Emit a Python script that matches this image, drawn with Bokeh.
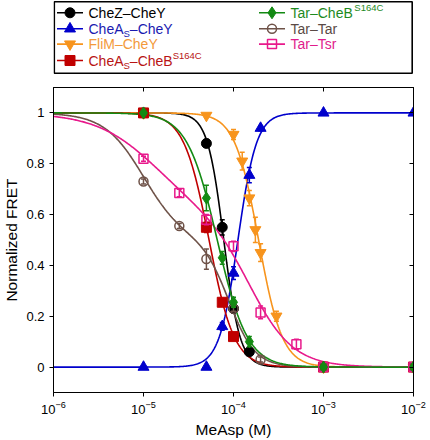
import numpy as np
from bokeh.plotting import figure
from bokeh.layouts import column
from bokeh.models import Range1d, LogAxis, LinearAxis, FixedTicker
from bokeh.core.properties import value
from bokeh.embed import file_html
from bokeh.resources import INLINE

# ---------------- data ----------------
chez_x = [1e-5, 5e-5, 7.5e-5, 1e-4, 1.5e-4, 1e-3, 1e-2]
chez_y = [1.0, 0.88, 0.55, 0.23, 0.06, 0.0, 0.0]
chez_err = [0.0, 0.015, 0.03, 0.015, 0.01, 0.0, 0.0]

chea_x = [1e-5, 5e-5, 7.5e-5, 1e-4, 1.5e-4, 2e-4, 1e-3, 1e-2]
chea_y = [0.0, 0.0, 0.16, 0.37, 0.755, 0.94, 1.0, 1.0]
chea_err = [0.0, 0.0, 0.015, 0.025, 0.03, 0.01, 0.0, 0.0]

flim_x = [1e-5, 5e-5, 1e-4, 1.25e-4, 1.5e-4, 1.75e-4, 2e-4, 3e-4, 1e-3, 1e-2]
flim_y = [1.0, 0.99, 0.915, 0.81, 0.665, 0.54, 0.45, 0.2, 0.0, 0.0]
flim_err = [0.0, 0.005, 0.02, 0.035, 0.03, 0.05, 0.035, 0.02, 0.0, 0.0]

cheacheb_x = [1e-5, 5e-5, 7.5e-5, 1e-4, 1e-3, 1e-2]
cheacheb_y = [1.0, 0.55, 0.255, 0.12, 0.0, 0.0]
cheacheb_err = [0.0, 0.02, 0.015, 0.01, 0.0, 0.0]

tarcheb_x = [1e-5, 5e-5, 7.5e-5, 1e-4, 1.5e-4, 1e-3, 1e-2]
tarcheb_y = [1.0, 0.665, 0.43, 0.255, 0.10, 0.0, 0.0]
tarcheb_err = [0.0, 0.05, 0.025, 0.02, 0.02, 0.0, 0.0]

tartar_x = [1e-5, 2.5e-5, 5e-5, 1e-4, 2e-4, 1e-3, 1e-2]
tartar_y = [0.73, 0.555, 0.425, 0.23, 0.03, 0.0, 0.0]
tartar_err = [0.01, 0.01, 0.04, 0.01, 0.01, 0.0, 0.0]

tartsr_x = [1e-5, 2.5e-5, 5e-5, 1e-4, 2e-4, 5e-4, 1e-3, 1e-2]
tartsr_y = [0.82, 0.685, 0.58, 0.475, 0.215, 0.09, 0.0, 0.0]
tartsr_err = [0.01, 0.015, 0.02, 0.02, 0.025, 0.02, 0.0, 0.0]

# Hill-fit parameters (weights, K, n); "up" = increasing response
chez_fit = ([1.0], [7.8e-5], [4.8])
chea_fit = ([1.0], [1.12e-4], [4.2])
flim_fit = ([1.0], [1.9e-4], [3.3])
cheacheb_fit = ([1.0], [5.35e-5], [3.1])
tarcheb_fit = ([1.0], [6.6e-5], [2.6])
tartar_fit = ([0.5, 0.5], [1.0e-5, 9.0e-5], [2.0, 3.0])
tartsr_fit = ([0.4, 0.6], [1.3e-5, 1.55e-4], [1.3, 1.8])

x_ticks = [1e-6, 1e-5, 1e-4, 1e-3, 1e-2]
y_ticks = [0, 0.2, 0.4, 0.6, 0.8, 1.0]
y_tick_labels = ["0", "0.2", "0.4", "0.6", "0.8", "1"]

FONT = "Liberation Sans"

series = [
    dict(name=[("CheZ–CheY", 0)], x=chez_x, y=chez_y, e=chez_err, fit=chez_fit, up=False,
         color="#000000", text_color="#000000", marker="circle", fill=True, size=10),
    dict(name=[("CheA", 0), ("S", -1), ("–CheY", 0)], x=chea_x, y=chea_y, e=chea_err, fit=chea_fit, up=True,
         color="#0000CC", text_color="#1A1AB0", marker="triangle", fill=True, size=11),
    dict(name=[("FliM–CheY", 0)], x=flim_x, y=flim_y, e=flim_err, fit=flim_fit, up=False,
         color="#F7941D", text_color="#F39A3A", marker="inverted_triangle", fill=True, size=11),
    dict(name=[("CheA", 0), ("S", -1), ("–CheB", 0), ("S164C", 1)], x=cheacheb_x, y=cheacheb_y,
         e=cheacheb_err, fit=cheacheb_fit, up=False,
         color="#C00000", text_color="#B81414", marker="square", fill=True, size=10),
    dict(name=[("Tar–CheB", 0), ("S164C", 1)], x=tarcheb_x, y=tarcheb_y, e=tarcheb_err, fit=tarcheb_fit,
         up=False, color="#138A13", text_color="#1E8A1E", marker="diamond", fill=True, size=12),
    dict(name=[("Tar–Tar", 0)], x=tartar_x, y=tartar_y, e=tartar_err, fit=tartar_fit, up=False,
         color="#6E5248", text_color="#5A4A45", marker="circle", fill=False, size=9),
    dict(name=[("Tar–Tsr", 0)], x=tartsr_x, y=tartsr_y, e=tartsr_err, fit=tartsr_fit, up=False,
         color="#E8198B", text_color="#E01C8C", marker="square", fill=False, size=9),
]

def hill(xs, fit, up):
    w, K, n = fit
    xs = np.asarray(xs)
    y = np.zeros_like(xs)
    for wi, Ki, ni in zip(w, K, n):
        r = (xs / Ki) ** ni
        y = y + wi * (r / (1 + r) if up else 1 / (1 + r))
    return y

# ---------------- main figure ----------------
p = figure(width=430, height=360, x_axis_type="log", x_range=(1e-6, 1e-2), y_range=(-0.1, 1.1),
           output_backend="svg", toolbar_location=None, min_border_left=53, min_border_right=17,
           min_border_top=7, min_border_bottom=48)
p.grid.visible = False
p.outline_line_color = "black"
p.background_fill_color = "white"
p.border_fill_color = "white"

xs_fit = np.logspace(-6, -2, 400)
draw_order = [0, 1, 2, 3, 5, 6, 4]
for i in draw_order:
    s = series[i]
    p.line(xs_fit, hill(xs_fit, s["fit"], s["up"]), line_color=s["color"], line_width=1.6)
for i in draw_order:
    s = series[i]
    ex = [a for a, e in zip(s["x"], s["e"]) if e > 0]
    elo = [b - e for b, e in zip(s["y"], s["e"]) if e > 0]
    ehi = [b + e for b, e in zip(s["y"], s["e"]) if e > 0]
    if ex:
        p.segment(x0=ex, y0=elo, x1=ex, y1=ehi, line_color=s["color"], line_width=1.5)
        p.scatter(ex + ex, elo + ehi, marker="dash", size=5, line_color=s["color"], line_width=1.5)
    p.scatter(s["x"], s["y"], marker=s["marker"], size=s["size"], line_color=s["color"],
              fill_color=s["color"] if s["fill"] else None, line_width=1.5 if not s["fill"] else 1)

for ax in (p.xaxis[0], p.yaxis[0]):
    ax.axis_line_color = "black"
    ax.major_tick_line_color = "black"
    ax.major_tick_out = 4
    ax.major_tick_in = 0
    ax.minor_tick_line_color = None
    ax.major_label_text_font = FONT
    ax.major_label_text_font_size = "13px"
    ax.major_label_text_color = "black"
    ax.axis_label_text_font = FONT
    ax.axis_label_text_font_size = "15.5px"
    ax.axis_label_text_font_style = "normal"
    ax.axis_label_text_color = "black"
p.xaxis[0].major_label_standoff = 4
p.xaxis[0].axis_label_standoff = 4
p.yaxis[0].major_label_standoff = 5
p.yaxis[0].axis_label_standoff = 3

p.xaxis[0].ticker = FixedTicker(ticks=x_ticks)
p.xaxis[0].axis_label = "MeAsp (M)"
p.yaxis[0].ticker = FixedTicker(ticks=y_ticks)
p.yaxis[0].major_label_overrides = {t: l for t, l in zip(y_ticks, y_tick_labels)}
p.yaxis[0].axis_label = "Normalized FRET"

top = LogAxis(ticker=FixedTicker(ticks=x_ticks), major_label_text_font_size="1px",
              major_label_text_alpha=0, major_label_standoff=0,
              major_tick_in=4, major_tick_out=0, minor_tick_line_color=None,
              axis_line_color="black", major_tick_line_color="black")
p.add_layout(top, "above")
right = LinearAxis(ticker=FixedTicker(ticks=y_ticks), major_label_text_font_size="1px",
                   major_label_text_alpha=0, major_label_standoff=0,
                   major_tick_in=4, major_tick_out=0, minor_tick_line_color=None,
                   axis_line_color="black", major_tick_line_color="black")
p.add_layout(right, "right")

# ---------------- legend figure (frame aligned with the main frame: x 53..413) ----------------
L = figure(width=430, height=80, x_range=Range1d(53, 413), y_range=Range1d(80, 0),
           output_backend="svg", toolbar_location=None, min_border=0,
           min_border_left=53, min_border_right=17,
           x_axis_location=None, y_axis_location=None)
L.grid.visible = False
L.outline_line_color = None
L.background_fill_color = "white"
L.border_fill_color = "white"
L.quad(left=[53.8], right=[411.7], top=[1.2], bottom=[72.7], fill_color=None,
       line_color="black", line_width=1.6)

ARIAL = {"C": 722, "h": 556, "e": 556, "Z": 611, "Y": 667, "A": 667, "S": 667, "B": 667,
         "F": 611, "l": 222, "i": 222, "M": 833, "T": 611, "a": 556, "r": 333, "s": 500,
         "1": 556, "6": 556, "4": 556, "–": 556}

def twidth(t, size):
    return sum(ARIAL.get(c, 556) for c in t) * size / 1000.0

rows = [12.3, 28.3, 43.6, 60.0]
positions = [(0, 0), (0, 1), (0, 2), (0, 3), (1, 0), (1, 1), (1, 2)]
col_x = [56.5, 258.5]
for s, (c, r) in zip(series, positions):
    x0 = col_x[c]
    yy = rows[r]
    L.line([x0, x0 + 26], [yy, yy], line_color=s["color"], line_width=1.6)
    L.scatter([x0 + 13], [yy], marker=s["marker"], size=s["size"], line_color=s["color"],
              fill_color=s["color"] if s["fill"] else None, line_width=1.5 if not s["fill"] else 1)
    tx = x0 + 31.5
    for part, kind in s["name"]:
        if kind == 0:
            L.text([tx], [yy], text=[part], text_font=value(FONT), text_font_size="14px",
                   text_color=s["text_color"], text_baseline="middle", text_align="left")
            tx += twidth(part, 14)
        else:
            dy = 4.5 if kind < 0 else -5
            L.text([tx], [yy + dy], text=[part], text_font=value(FONT), text_font_size="9.5px",
                   text_color=s["text_color"], text_baseline="middle", text_align="left")
            tx += twidth(part, 9.5)

layout = column(L, p, spacing=0)
open("out.html", "w").write(file_html(layout, INLINE))
